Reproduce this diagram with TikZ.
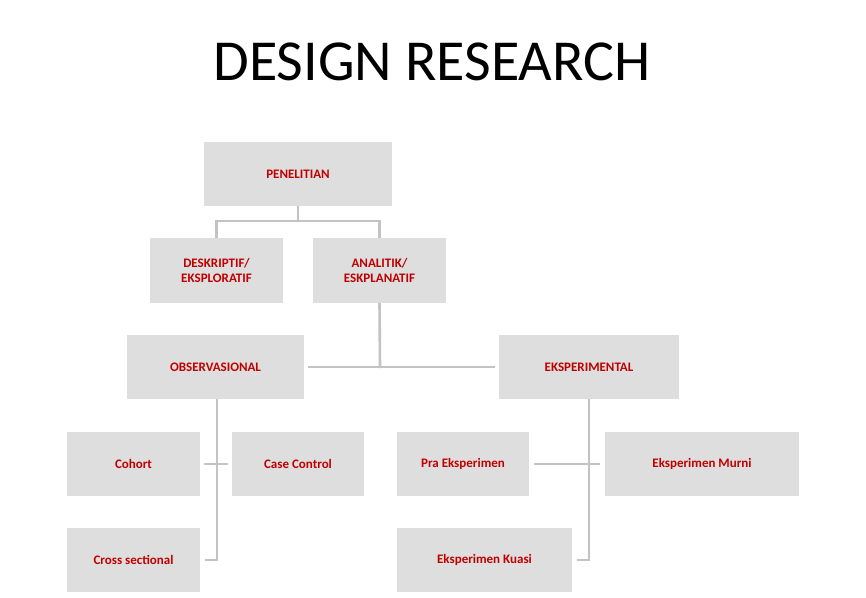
\documentclass[tikz,border=0pt]{standalone}
\usepackage{fontspec}
\setmainfont{Carlito}
\definecolor{boxg}{HTML}{DEDEDE}
\definecolor{lineg}{HTML}{C3C3C3}
\definecolor{txtred}{HTML}{C00000}
\begin{document}
\begin{tikzpicture}[x=1pt,y=-1pt,
  bx/.style={fill=boxg,draw=none,inner sep=0pt,text=txtred,font=\fontsize{13}{15.5}\selectfont\bfseries,align=center},
  ln/.style={draw=lineg,line width=2.6pt}]
\useasboundingbox (0,0) rectangle (866,597);
\fill[white] (0,0) rectangle (866,597);
\node[font=\fontsize{58}{60}\selectfont] (title) at (432,62) {DESIGN RESEARCH};
\newcommand\bxat[6]{\node[bx,minimum width=#4pt,minimum height=#5pt] (#1) at (#2,#3) {#6};}
\bxat{pen}{298}{174}{188}{64}{PENELITIAN}
\bxat{des}{216.5}{270.5}{133}{65}{DESKRIPTIF/\\EKSPLORATIF}
\bxat{ana}{379.5}{270.5}{133}{65}{ANALITIK/\\ESKPLANATIF}
\bxat{obs}{215.5}{367}{177}{64}{OBSERVASIONAL}
\bxat{eks}{589}{367}{180}{64}{EKSPERIMENTAL}
\bxat{coh}{133.5}{464}{133}{64}{Cohort}
\bxat{cc}{298}{464}{132}{64}{Case Control}
\bxat{cs}{133.5}{560}{133}{64}{Cross sectional}
\bxat{pra}{463}{464}{132}{64}{Pra Eksperimen}
\bxat{mur}{702}{464}{194}{64}{Eksperimen Murni}
\bxat{kua}{484.5}{560}{175}{64}{Eksperimen Kuasi}
\coordinate (j1) at (298,221);
\draw[ln] (pen.south) -- (j1);
\draw[ln] (des.north) |- (j1) -| (ana.north);
\coordinate (j2) at (380,368);
\draw[ln] (ana.south) -- (j2);
\draw[ln] ([xshift=4pt]obs.east) -- ([xshift=-4pt]eks.west);
\coordinate (o1) at (217,560);
\draw[ln] (217,399) -- (o1) -- ([xshift=5pt]cs.east);
\draw[ln] ([xshift=4pt]coh.east) -- ([xshift=-4pt]cc.west);
\coordinate (e1) at (589,560);
\draw[ln] (589,399) -- (e1) -- ([xshift=5pt]kua.east);
\draw[ln] ([xshift=5pt]pra.east) -- ([xshift=-5pt]mur.west);
\end{tikzpicture}
\end{document}
